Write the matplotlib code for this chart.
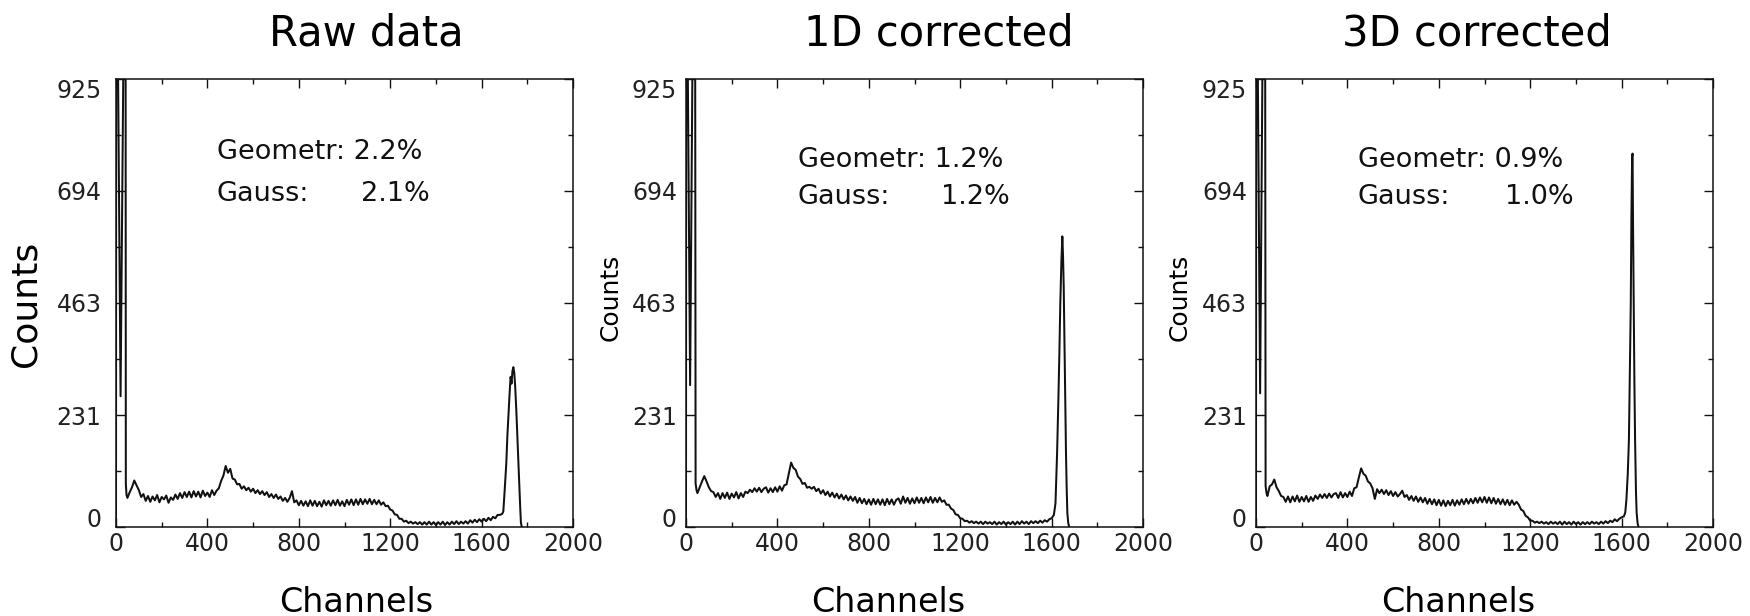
import numpy as np
import matplotlib
matplotlib.use("Agg")
import matplotlib.pyplot as plt
from matplotlib.ticker import MultipleLocator, FixedLocator

plt.rcParams["font.family"] = ["DejaVu Sans"]

# ---- data ----
titles = ["Raw data", "1D corrected", "3D corrected"]
geometr = ["2.2%", "1.2%", "0.9%"]
gauss = ["2.1%", "1.2%", "1.0%"]
y_ticks = [0, 231, 463, 694, 925]
x_ticks = [0, 400, 800, 1200, 1600, 2000]

# low-channel spike (goes off scale)
raw_spike_ch = [0, 2, 8, 20, 33, 40, 43, 46]
raw_spike = [0, 3000, 1000, 270, 1000, 3000, 90, 66]
d1_spike_ch = [0, 2, 7, 18, 29, 36, 42, 46]
d1_spike = [0, 3000, 1000, 293, 1000, 3000, 90, 76]
d3_spike_ch = [0, 2, 7, 18, 29, 36, 42, 46]
d3_spike = [0, 3000, 1000, 276, 1000, 3000, 85, 70]

# continuum, one value every 10 channels starting at channel 50
raw_cont = [
    60, 72, 82, 96, 86, 76, 62, 68, 54, 64,
    52, 63, 55, 66, 51, 62, 57, 65, 50, 61,
    56, 67, 58, 70, 60, 72, 62, 73, 61, 74,
    63, 73, 61, 75, 64, 71, 62, 76, 66, 75,
    80, 95, 106, 126, 112, 120, 100, 98, 88, 89,
    79, 84, 76, 81, 73, 79, 70, 76, 68, 74,
    66, 72, 62, 68, 60, 67, 58, 63, 54, 60,
    52, 60, 74, 51, 55, 45, 54, 44, 53, 43,
    55, 44, 54, 43, 52, 42, 55, 45, 54, 44,
    55, 45, 56, 44, 53, 43, 56, 46, 57, 45,
    57, 46, 58, 47, 57, 48, 58, 47, 56, 47,
    55, 46, 51, 43, 44, 36, 34, 26, 25, 17,
    17, 11, 13, 8, 11, 7, 10, 6, 10, 5,
    10, 5, 11, 5, 10, 4, 10, 5, 11, 4,
    10, 5, 11, 6, 12, 6, 11, 7, 12, 7,
    14, 9, 15, 10, 16, 11, 17, 12, 19, 14,
    21, 18, 25,
]
d1_cont = [
    70, 82, 94, 105, 94, 82, 74, 72, 62, 70,
    58, 70, 60, 71, 58, 69, 61, 72, 59, 70,
    62, 73, 70, 77, 72, 80, 73, 81, 72, 79,
    82, 71, 80, 72, 82, 73, 84, 75, 86, 88,
    110, 133, 122, 118, 104, 99, 89, 91, 81, 83,
    79, 83, 74, 79, 69, 76, 66, 73, 63, 71,
    61, 69, 59, 67, 57, 65, 55, 63, 54, 62,
    50, 60, 49, 58, 47, 57, 46, 58, 47, 57,
    46, 57, 45, 58, 47, 57, 46, 56, 59, 48,
    63, 50, 60, 48, 59, 49, 61, 50, 60, 49,
    61, 51, 62, 50, 60, 51, 61, 52, 55, 46,
    46, 38, 35, 26, 25, 18, 17, 12, 13, 9,
    12, 8, 11, 7, 11, 6, 11, 7, 10, 6,
    11, 5, 10, 6, 11, 5, 10, 6, 11, 5,
    11, 6, 12, 7, 11, 6, 12, 8, 12, 8,
    13, 9, 14, 11, 16, 18,
]
d3_cont = [
    64, 84, 88, 98, 82, 74, 64, 62, 52, 63,
    51, 63, 53, 65, 52, 62, 53, 64, 52, 62,
    54, 65, 58, 67, 60, 68, 60, 69, 61, 68,
    70, 60, 72, 61, 70, 62, 73, 64, 80, 82,
    102, 121, 110, 106, 94, 90, 80, 58, 78, 70,
    77, 68, 76, 66, 74, 64, 72, 63, 68, 75,
    62, 66, 56, 64, 54, 63, 52, 61, 51, 60,
    48, 58, 47, 57, 45, 56, 44, 55, 43, 54,
    45, 56, 44, 55, 46, 57, 47, 58, 48, 58,
    49, 60, 50, 61, 51, 62, 50, 61, 49, 60,
    48, 58, 47, 57, 46, 56, 45, 55, 46, 52,
    46, 36, 33, 23, 20, 13, 13, 9, 11, 8,
    11, 7, 10, 6, 11, 7, 10, 6, 11, 5,
    11, 6, 10, 5, 11, 6, 10, 5, 10, 6,
    10, 6, 11, 7, 10, 6, 11, 7, 12, 8,
    13, 10, 16, 12, 17, 20,
]

# full-energy peak
raw_peak_ch = [1680, 1690, 1695, 1701, 1708, 1713, 1718, 1723, 1727, 1731,
               1735, 1739, 1743, 1747, 1752, 1757, 1761, 1765, 1769, 1772, 1776]
raw_peak = [25, 27, 32, 76, 131, 190, 235, 280, 310, 296,
            322, 330, 318, 290, 240, 180, 128, 83, 40, 9, 0]
d1_peak_ch = [1610, 1617, 1624, 1630, 1634, 1638, 1643, 1647, 1650, 1653,
              1657, 1660, 1663, 1666, 1669, 1673, 1677]
d1_peak = [25, 49, 152, 270, 359, 460, 551, 600, 560, 496,
           359, 250, 152, 80, 28, 8, 0]
d3_peak_ch = [1610, 1616, 1621, 1627, 1632, 1636, 1640, 1643, 1646, 1648,
              1650, 1653, 1656, 1659, 1663, 1666, 1670, 1674]
d3_peak = [22, 30, 56, 110, 180, 320, 455, 640, 765, 771,
           627, 455, 300, 180, 70, 28, 8, 0]


def spectrum(spike_ch, spike, cont, peak_ch, peak):
    cont_ch = 50 + 10 * np.arange(len(cont))
    x = np.concatenate([spike_ch, cont_ch, peak_ch])
    y = np.concatenate([spike, cont, peak])
    return x, y


spectra = [
    spectrum(raw_spike_ch, raw_spike, raw_cont, raw_peak_ch, raw_peak),
    spectrum(d1_spike_ch, d1_spike, d1_cont, d1_peak_ch, d1_peak),
    spectrum(d3_spike_ch, d3_spike, d3_cont, d3_peak_ch, d3_peak),
]

# ---- layout (pixels of the 1750x616 canvas) ----
W, H = 1750, 616
fig = plt.figure(figsize=(W / 100, H / 100), dpi=100)

ax_left = [116, 686, 1256]
ax_w, ax_top, ax_bot = 457, 79, 527
ax_h = ax_bot - ax_top
title_x = [0.547, 0.554, 0.484]
xlabel_x = [0.525, 0.442, 0.442]
ylabel_x = [-0.16, -0.138, -0.140]
ylabel_y = [0.498, 0.513, 0.513]
ylabel_size = [26, 18, 18]
ytick_pad = [10.5, 6.5, 6.5]
text_x = [(0.221, 0.687), (0.245, 0.709), (0.223, 0.696)]
text_base = [(159, 201), (167, 204), (167, 204)]

ink = "#111111"

for i in range(3):
    ax = fig.add_axes([ax_left[i] / W, (H - ax_bot) / H, ax_w / W, ax_h / H])
    x, y = spectra[i]
    ax.plot(x, y, color=ink, lw=1.45)

    ax.set_xlim(0, 2000)
    ax.set_ylim(0, 925)
    ax.set_xticks(x_ticks)
    ax.xaxis.set_minor_locator(MultipleLocator(200))
    ax.set_yticks(y_ticks, [str(v) for v in y_ticks])
    ax.yaxis.set_minor_locator(FixedLocator([115.6, 347, 578.5, 809.5]))
    ax.tick_params(which="both", direction="in", top=True, right=True,
                   color=ink, width=1.0)
    ax.tick_params(which="major", length=6.5)
    ax.tick_params(which="minor", length=3.5)
    ax.tick_params(axis="x", labelsize=17, pad=3.5, labelcolor="#222222")
    ax.tick_params(axis="y", labelsize=17, pad=ytick_pad[i],
                   labelcolor="#222222")
    ylabs = ax.get_yticklabels()
    ylabs[0].set_verticalalignment("baseline")
    ylabs[-1].set_verticalalignment("top")
    for sp in ax.spines.values():
        sp.set_color(ink)
        sp.set_linewidth(1.1)

    ax.set_xlabel("Channels", fontsize=24, va="baseline")
    ax.xaxis.set_label_coords(xlabel_x[i], (ax_bot - 612) / ax_h)
    ax.set_ylabel("Counts", fontsize=ylabel_size[i])
    ax.yaxis.set_label_coords(ylabel_x[i], ylabel_y[i])

    ax.text(title_x[i], (ax_bot - 46) / ax_h, titles[i],
            transform=ax.transAxes, ha="center", va="baseline", fontsize=30)

    tl, tr = text_x[i]
    y1 = (ax_bot - text_base[i][0]) / ax_h
    y2 = (ax_bot - text_base[i][1]) / ax_h
    ax.text(tl, y1, f"Geometr: {geometr[i]}", transform=ax.transAxes,
            ha="left", va="baseline", fontsize=19.5, color=ink)
    ax.text(tl, y2, "Gauss:", transform=ax.transAxes, ha="left",
            va="baseline", fontsize=19.5, color=ink)
    ax.text(tr, y2, gauss[i], transform=ax.transAxes, ha="right",
            va="baseline", fontsize=19.5, color=ink)

fig.savefig("out.png", dpi=100)
